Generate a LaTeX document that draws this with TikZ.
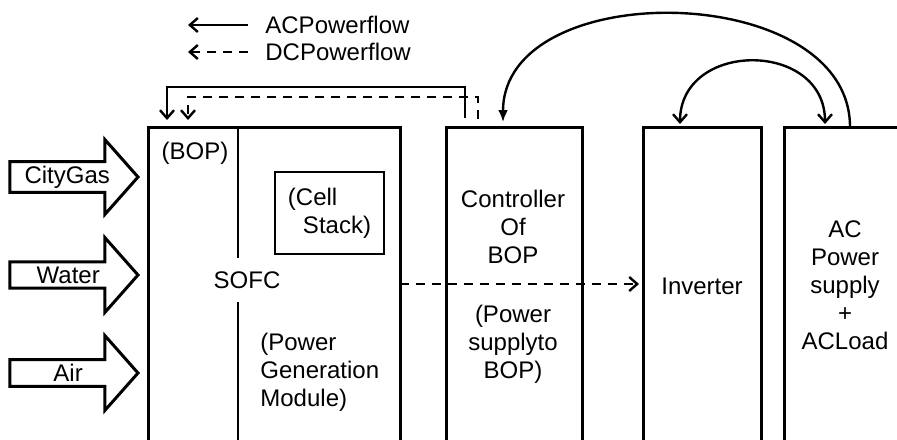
\documentclass[tikz,border=0pt]{standalone}
\usepackage{fontspec}
\setmainfont{Liberation Sans}
\usepackage{tikz}
\usetikzlibrary{positioning,shapes.arrows,arrows.meta}

\tikzset{
  unit/.style={draw, line width=1.5pt, anchor=north west, outer sep=0pt, minimum height=180pt},
  lbl/.style={align=center, inner sep=0pt},
  feedin/.style={single arrow, draw, line width=1.5pt, anchor=tip, inner sep=0pt,
    minimum width=37.5pt, minimum height=64pt, single arrow head extend=9.25pt,
    single arrow tip angle=97, single arrow head indent=0pt},
  barb/.style={-{Straight Barb[length=4pt,width=7pt]}},
  acflow/.style={barb, line width=1.2pt},
  dcflow/.style={barb, line width=1.2pt, dash pattern=on 4.5pt off 3.5pt},
}

\begin{document}
\begin{tikzpicture}[x=0.5pt, y=-0.5pt, font=\fontsize{12pt}{14pt}\selectfont]
    \useasboundingbox (0,0) rectangle (897,439);
    \clip (0,0) rectangle (897,439);

    % legend
    \coordinate (acend) at (188,25);
    \coordinate (dcend) at (188,52);
    \node[lbl, anchor=west, inner xsep=8.5pt] (legac) at (248,25) {ACPowerflow};
    \node[lbl, anchor=west, inner xsep=8.5pt] (legdc) at (248,52) {DCPowerflow};
    \draw[acflow] (legac.west) -- (acend);
    \draw[dcflow] (legdc.west) -- (dcend);

    % units
    \node[unit, minimum width=126pt] (sofc) at (148,127) {};
    \node[unit, minimum width=68pt] (ctrl) at (446,127) {};
    \node[unit, minimum width=59pt] (inv) at (643,127) {};
    \node[unit, minimum width=88pt] (acl) at (784,127) {};

    % inputs
    \node[feedin] (gas) at (140,177) {CityGas};
    \node[feedin] (water) at (140,275) {Water};
    \node[feedin] (air) at (140,373) {Air};

    % inside the SOFC
    \draw[line width=0.6pt] (238,127) -- (238,258);
    \draw[line width=0.6pt] (238,302) -- (238,445);
    \node[lbl] (bop) at (195,153) {(BOP)};
    \node[lbl] (sofclbl) at (247,280) {SOFC};
    \node[draw, line width=0.6pt, minimum width=54.5pt, minimum height=41pt, align=left, inner sep=0pt] (stack) at (329.5,213) {(Cell\\\hspace{7.5pt}Stack)};
    \node[lbl, align=left, anchor=west] (pgm) at (260,372) {(Power\\Generation\\Module)};

    % texts of the other units
    \node[lbl] (ctrltxt) at (513,227) {Controller\\Of\\BOP};
    \node[lbl] (ctrlsup) at (513,344) {(Power\\supplyto\\BOP)};
    \node[lbl] (invtxt) at (702,286) {Inverter};
    \node[lbl] (acltxt) at (845,285) {AC\\Power\\supply\\+\\ACLoad};

    % power flows
    \coordinate (acsrc) at (465,118);
    \coordinate (acdst) at (167,120);
    \coordinate (dcsrc) at (478,119);
    \coordinate (dcdst) at (188,120);
    \draw[acflow] (acsrc) -- ++(0,-31) -| (acdst);
    \draw[dcflow] (dcsrc) -- ++(0,-22) -| (dcdst);

    \coordinate (dcrow) at (0,284);
    \draw[dcflow] (sofc.east |- dcrow) -- ([xshift=-2pt]inv.west |- dcrow);

    \coordinate (aclout) at (850,127);
    \coordinate (ctrlin) at (503,122);
    \coordinate (invin) at (680,124);
    \coordinate (aclin) at (825,124);
    \draw[-{Latex[length=6pt,width=5pt]}, line width=1.2pt] (aclout) .. controls +(0,-147) and +(0,-147) .. (ctrlin);
    \draw[{Straight Barb[length=4pt,width=7pt]}-{Straight Barb[length=4pt,width=7pt]}, line width=1.2pt] (invin) .. controls +(0,-84) and +(0,-84) .. (aclin);
  \end{tikzpicture}
\end{document}
